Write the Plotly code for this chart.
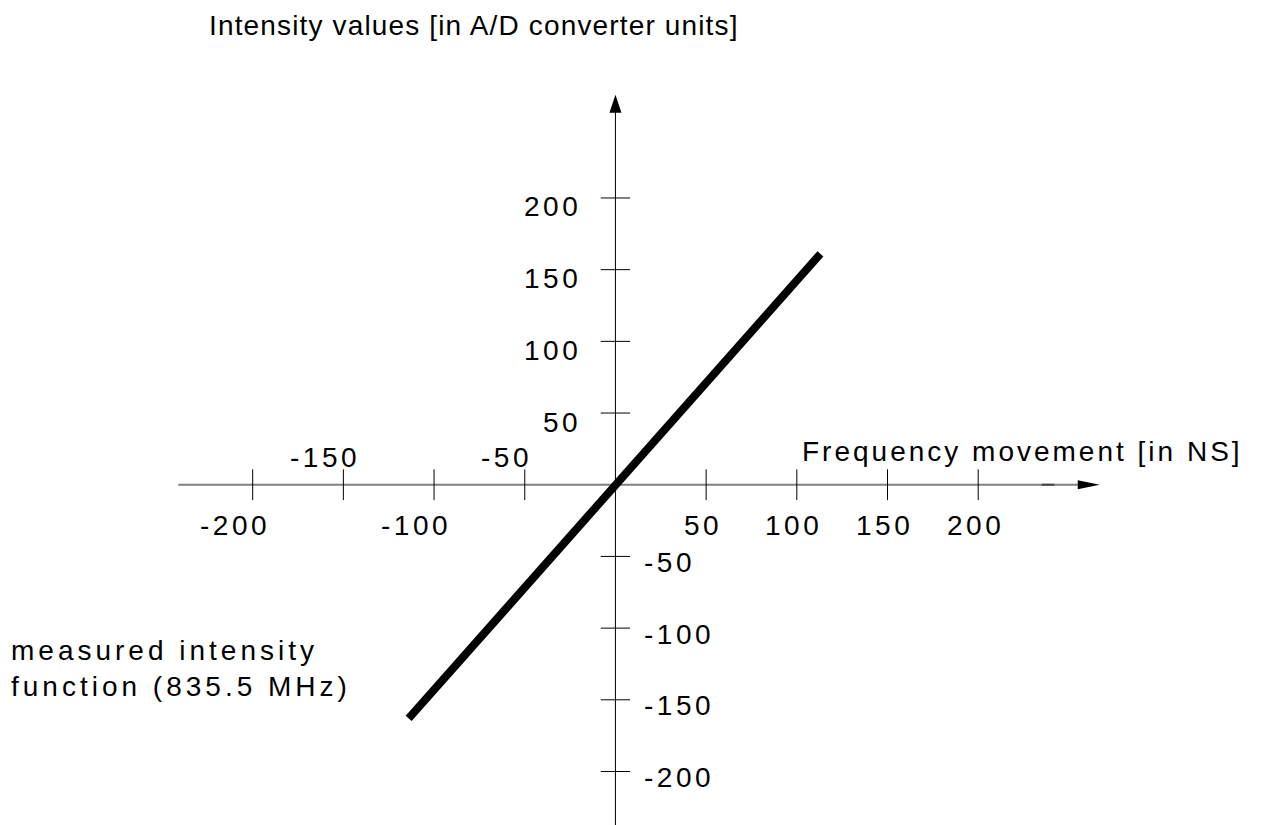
import plotly.graph_objects as go

# ---------------- data ----------------
line_x = [-114, 113]
line_y = [-163, 161]

x_tick_vals = [-200, -150, -100, -50, 50, 100, 150, 200]
x_tick_text = ["-200", "-150", "-100", "-50", "50", "100", "150", "200"]
x_tick_side = ["below", "above", "below", "above", "below", "below", "below", "below"]

y_tick_vals = [200, 150, 100, 50, -50, -100, -150, -200]
y_tick_text = ["200", "150", "100", "50", "-50", "-100", "-150", "-200"]

x_title = "Frequency movement [in NS]"
y_title = "Intensity values [in A/D converter units]"
curve_label = ["measured intensity", "function (835.5 MHz)"]

# ---------------- layout constants ----------------
W, H = 1276, 825
OFF = 8  # page body margin
X_RANGE = [-334.9, 368.6]
Y_RANGE = [-242.9, 332.5]
X_AXIS_START, X_AXIS_END, X_ARROW_TIP = -241.0, 256.0, 267.0
Y_AXIS_START, Y_ARROW_TIP = -250.0, 272.0

FONT = "Liberation Sans, Arial, sans-serif"
FS = 28


def spaced(t, px):
    return '<span style="letter-spacing:%spx">%s</span>' % (px, t)


def px_x(p):
    return (p - OFF) / W


def px_y(p):
    return 1 - (p - OFF) / H


fig = go.Figure()

# measured intensity function
fig.add_trace(go.Scatter(x=line_x, y=line_y, mode="lines",
                         line=dict(color="black", width=8),
                         hoverinfo="skip", showlegend=False))

# tick marks crossing the axes
fig.add_trace(go.Scatter(x=x_tick_vals, y=[0] * len(x_tick_vals), mode="markers",
                         marker=dict(symbol="line-ns", size=22,
                                     line=dict(color="black", width=1)),
                         hoverinfo="skip", showlegend=False))
fig.add_trace(go.Scatter(x=[0] * len(y_tick_vals), y=y_tick_vals, mode="markers",
                         marker=dict(symbol="line-ew", size=21,
                                     line=dict(color="black", width=1)),
                         hoverinfo="skip", showlegend=False))

shapes = [
    dict(type="line", xref="x", yref="y", x0=X_AXIS_START, x1=X_AXIS_END, y0=0, y1=0,
         line=dict(color="#7f7f7f", width=2), layer="below"),
    dict(type="line", xref="x", yref="y", x0=235, x1=242, y0=0, y1=0,
         line=dict(color="#444444", width=2), layer="below"),
    dict(type="line", xref="x", yref="y", x0=0, x1=0, y0=Y_AXIS_START, y1=Y_ARROW_TIP - 10,
         line=dict(color="black", width=1), layer="below"),
    dict(type="path", xref="x", yref="y", xsizemode="pixel", ysizemode="pixel",
         xanchor=X_ARROW_TIP, yanchor=0, path="M0,0 L-22,4.5 L-22,-4.5 Z",
         fillcolor="black", line=dict(width=0)),
    dict(type="path", xref="x", yref="y", xsizemode="pixel", ysizemode="pixel",
         xanchor=0, yanchor=Y_ARROW_TIP, path="M0,0 L-6,-18 L6,-18 Z",
         fillcolor="black", line=dict(width=0)),
]

annotations = []
font = dict(family=FONT, size=FS, color="black")
for v, t, side in zip(x_tick_vals, x_tick_text, x_tick_side):
    annotations.append(dict(x=v, y=0, xref="x", yref="y", text=spaced(t, 3.5),
                            showarrow=False, font=font, xanchor="center", yanchor="middle",
                            xshift=-18 if v < 0 else -3,
                            yshift=27 if side == "above" else -41))
for v, t in zip(y_tick_vals, y_tick_text):
    if v > 0:
        annotations.append(dict(x=0, y=v, xref="x", yref="y", text=spaced(t, 3.5),
                                showarrow=False, font=font, xanchor="right", yanchor="middle",
                                xshift=-32, yshift=-9))
    else:
        annotations.append(dict(x=0, y=v, xref="x", yref="y", text=spaced(t, 3.5),
                                showarrow=False, font=font, xanchor="left", yanchor="middle",
                                xshift=27, yshift=-6))

annotations.append(dict(x=px_x(207), y=1, xref="paper", yref="paper",
                        text=spaced(y_title, 1.15), showarrow=False, font=font,
                        xanchor="left", yanchor="top"))
annotations.append(dict(x=px_x(800), y=px_y(451), xref="paper", yref="paper",
                        text=spaced(x_title, 3.0), showarrow=False, font=font,
                        xanchor="left", yanchor="middle"))
annotations.append(dict(x=px_x(9), y=px_y(668), xref="paper", yref="paper",
                        text="<br>".join(spaced(s, 4) for s in curve_label),
                        showarrow=False, font=font, align="left",
                        xanchor="left", yanchor="middle"))

fig.update_layout(
    width=W, height=H,
    margin=dict(l=0, r=0, t=0, b=0),
    paper_bgcolor="white", plot_bgcolor="white",
    xaxis=dict(range=X_RANGE, visible=False, fixedrange=True),
    yaxis=dict(range=Y_RANGE, visible=False, fixedrange=True),
    shapes=shapes, annotations=annotations,
    showlegend=False,
)

fig.write_html("out.html", config={"displayModeBar": False})
